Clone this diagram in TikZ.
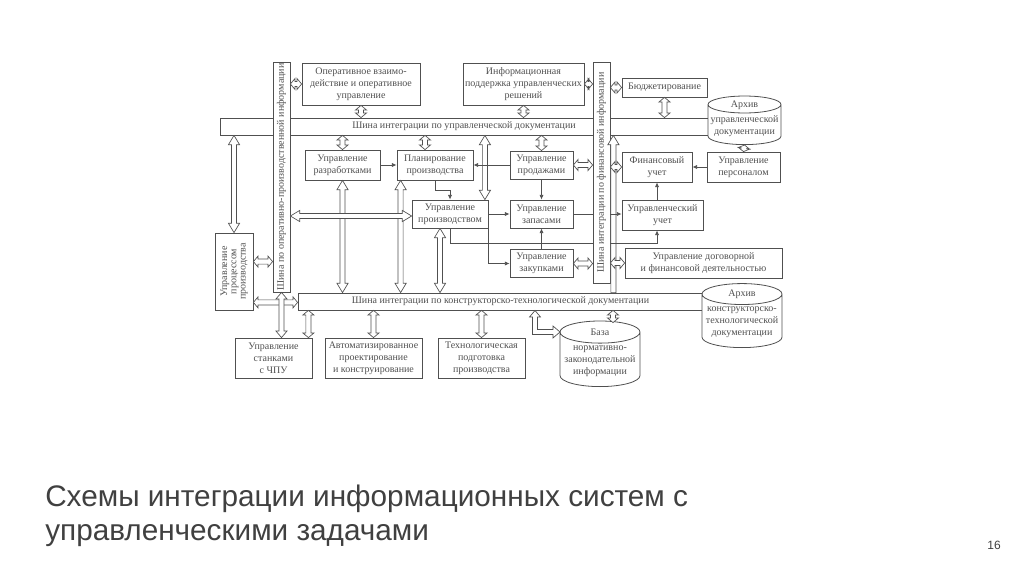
\documentclass[tikz,border=0pt]{standalone}
\usepackage{fontspec}
\usepackage{graphicx}
\setmainfont{Liberation Serif}
\newfontfamily\slidefont{Liberation Sans}
\usetikzlibrary{arrows.meta,calc,shapes.geometric}
\definecolor{ink}{HTML}{505050}
\definecolor{slidetext}{HTML}{404040}

\begin{document}
\begin{tikzpicture}[x=0.75pt,y=-0.75pt,every node/.style={font=\fontsize{7.5}{9}\selectfont,text=ink},
 sz/.style 2 args={minimum width=#1*0.75pt,minimum height=#2*0.75pt},
 box/.style={draw=ink,fill=white,line width=.6pt,align=center,inner sep=1pt},
 bus/.style={draw=ink,fill=white,line width=.6pt,inner sep=0pt},
 db/.style={cylinder,shape border rotate=90,draw=ink,fill=white,line width=.6pt,align=center,inner xsep=1pt,inner ysep=1.5pt,anchor=south},
 cap/.style={label={[anchor=center,yshift=#1]north:Архив}},
 ln/.style={ink,line width=.5pt},arr/.style={ink,line width=.5pt,-{Latex[length=3.5pt,width=3pt]}},
 hl/.store in=\ahl,hl=3.5pt,
 dbl/.style={draw=ink,fill=white,line width=.5pt,to path={let \p1=(\tikztostart),\p2=(\tikztotarget),\n1={atan2(\y2-\y1,\x2-\x1)} in
  (\p1)--($(\p1)+(\n1:\ahl)+(\n1+90:4.2pt)$)--($(\p1)+(\n1:\ahl)+(\n1+90:1.9pt)$)--($(\p2)+(\n1+180:\ahl)+(\n1+90:1.9pt)$)--($(\p2)+(\n1+180:\ahl)+(\n1+90:4.2pt)$)--(\p2)
  --($(\p2)+(\n1+180:\ahl)+(\n1-90:4.2pt)$)--($(\p2)+(\n1+180:\ahl)+(\n1-90:1.9pt)$)--($(\p1)+(\n1:\ahl)+(\n1-90:1.9pt)$)--($(\p1)+(\n1:\ahl)+(\n1-90:4.2pt)$)--cycle}},
 one/.style={draw=ink,fill=white,line width=.5pt,to path={let \p1=(\tikztostart),\p2=(\tikztotarget),\n1={atan2(\y2-\y1,\x2-\x1)} in
  ($(\p1)+(\n1+90:1.9pt)$)--($(\p2)+(\n1+180:\ahl)+(\n1+90:1.9pt)$)--($(\p2)+(\n1+180:\ahl)+(\n1+90:4.2pt)$)--(\p2)
  --($(\p2)+(\n1+180:\ahl)+(\n1-90:4.2pt)$)--($(\p2)+(\n1+180:\ahl)+(\n1-90:1.9pt)$)--($(\p1)+(\n1-90:1.9pt)$)--cycle}}]
\useasboundingbox[fill=white] (0,0) rectangle (1024,574);
% buses
\node[bus,sz={488}{17}] (busU) at (464,126.5) {Шина интеграции по управленческой документации};
\node[bus,sz={405}{17}] (busD) at (500.5,301.5) {Шина интеграции по конструкторско-технологической документации};
\node[bus,sz={17}{230}] (busL) at (281.5,177) {\rotatebox{90}{Шина по оперативно-производственной информации}};
\node[bus,sz={17}{221}] (busR) at (601.5,172.5) {\rotatebox{90}{Шина интеграции по финансовой информации}};
% archives
\node[db,minimum width=73*0.75pt,aspect=.24,cap=-7pt] (archU) at (744.5,145) {управленческой\\документации};
\node[db,minimum width=80*0.75pt,aspect=.28,cap=-8.5pt] (archD) at (742,348) {конструкторско-\\технологической\\документации};
\node[db,minimum width=80*0.75pt,aspect=.3,label={[anchor=center,yshift=-8.7pt]north:База}] (baza) at (600,387) {нормативно-\\законодательной\\информации};
% top row
\node[box,sz={118}{42}] (opv) at (361,84) {Оперативное взаимо-\\действие и оперативное\\управление};
\node[box,sz={121}{42}] (info) at (523.5,84) {Информационная\\поддержка управленческих\\решений};
\node[box,sz={85}{19}] (budg) at (664.5,87.5) {Бюджетирование};
% middle
\node[box,sz={75}{30}] (razr) at (342.5,165) {Управление\\разработками};
\node[box,sz={76}{30}] (plan) at (435,165) {Планирование\\производства};
\node[box,sz={63}{28}] (prod) at (541.5,165) {Управление\\продажами};
\node[box,sz={70}{30}] (fin) at (657,167) {Финансовый\\учет};
\node[box,sz={73}{30}] (pers) at (743.5,167) {Управление\\персоналом};
\node[box,sz={76}{28}] (uprod) at (450,214) {Управление\\производством};
\node[box,sz={63}{28}] (zap) at (541.5,214) {Управление\\запасами};
\node[box,sz={81}{30}] (uuch) at (662.5,215) {Управленческий\\учет};
\node[box,sz={63}{28}] (zak) at (541.5,263.5) {Управление\\закупками};
\node[box,sz={157}{30}] (dog) at (703.5,263) {Управление договорной\\и финансовой деятельностью};
\node[box,sz={38}{77}] (proc) at (234,271.5) {\rotatebox{90}{\begin{tabular}{@{}c@{}}Управление\\[-2pt]процессом\\[-2pt]производства\end{tabular}}};
% bottom row
\node[box,sz={77}{40}] (stan) at (273.5,358) {Управление\\станками\\с ЧПУ};
\node[box,sz={97}{40}] (avt) at (373.5,358) {Автоматизированное\\проектирование\\и конструирование};
\node[box,sz={87}{40}] (tech) at (481.5,358) {Технологическая\\подготовка\\производства};
% hollow links
\coordinate (p1) at ($(plan.north)+(-10,0)$);\coordinate (p2) at ($(plan.south west)+(4,0)$);
\coordinate (u1) at ($(uprod.north east)+(-3.5,0)$);\coordinate (u2) at ($(uprod.south)+(-10,0)$);\coordinate (u3) at ($(uprod.west)+(0,2)$);
\coordinate (c1) at ($(proc.north east)+(0,29)$);\coordinate (c2) at ($(proc.south east)+(0,-8)$);
\coordinate (s1) at ($(stan.north east)+(-4,0)$);\coordinate (b1) at ($(baza.north)+(13,2)$);\coordinate (r1) at ($(busR.south east)+(3,0)$);
\draw[one,hl=7pt] (r1 |- busD.north) to (r1 |- busU.south);
\draw[dbl] (opv.west) to (opv.west -| busL.east);\draw[dbl] (opv.south) to (opv.south |- busU.north);
\draw[dbl] (info.south) to (info.south |- busU.north);\draw[dbl] (info.east) to (info.east -| busR.west);
\draw[dbl] (budg.west -| busR.east) to (budg.west);\draw[dbl] (budg.south) to (budg.south |- busU.north);
\draw[dbl,hl=2.5pt] (archU.south) to (pers.north);
\draw[dbl] (razr.north) to (razr.north |- busU.south);\draw[dbl] (p1) to (p1 |- busU.south);
\draw[dbl] (prod.north) to (prod.north |- busU.south);\draw[dbl,hl=7pt] (u1 |- busU.south) to (u1);
\draw[dbl,hl=7pt] (proc.north) to (proc.north |- busU.south);
\draw[dbl] (prod.east) to (prod.east -| busR.west);\draw[dbl] (fin.west -| busR.east) to (fin.west);
\draw[dbl] (zak.east) to (zak.east -| busR.west);\draw[dbl] (dog.west -| busR.east) to (dog.west);
\draw[dbl] (c1) to (c1 -| busL.west);\draw[dbl] (c2) to (c2 -| busD.west);
\draw[dbl,hl=5pt] (busL.south) to (busL.south |- stan.north);
\draw[dbl,hl=7pt] (razr.south) to (razr.south |- busD.north);\draw[dbl,hl=7pt] (p2) to (p2 |- busD.north);
\draw[dbl,hl=7pt] (u2) to (u2 |- busD.north);\draw[dbl,hl=7pt] (u3 -| busL.east) to (u3);
\draw[dbl] (s1 |- busD.south) to (s1);\draw[dbl] (avt.north |- busD.south) to (avt.north);
\draw[dbl] (tech.north |- busD.south) to (tech.north);\draw[dbl] (b1 |- busD.south) to (b1);
\draw[ink,fill=white,line width=.5pt] (535,310.5)--(529.5,317)--(532.5,317)--(532.5,334.5)--(553,334.5)--(553,338)--(560,332)--(553,326)--(553,329.5)--(537.5,329.5)--(537.5,317)--(540.5,317)--cycle;
% plain links
\draw[arr] (razr.east) -- (plan.west);\draw[arr] (prod.west) -- (plan.east);
\draw[arr] (plan.south) -- ++(0,10) -| (uprod.north);\draw[arr] (uprod.east) -- (zap.west);
\draw[arr] (uprod.south east) |- (zak.west);\draw[arr] (prod.south) -- (zap.north);\draw[arr] (zak.north) -- (zap.south);
\draw[ln] (zap.east) -- (zap.east -| busR.west);\draw[arr] (zap.east -| busR.east) -- (zap.east -| uuch.west);
\coordinate (k1) at ($(uprod.south)+(0,15)$);\draw[ln] (uprod.south) -- (k1) -- (k1 -| busR.west);\draw[arr] (k1 -| busR.east) -| (fin.south |- uuch.south);
\draw[arr] (fin.south |- uuch.north) -- (fin.south);\draw[arr] (pers.west) -- (fin.east);
% caption
\node[anchor=north west,align=left,inner sep=0pt,font=\slidefont\fontsize{22.3}{25}\selectfont,text=slidetext] (title) at (45,485) {Схемы интеграции информационных систем с\\управленческими задачами};
\node[anchor=east,inner sep=0pt,font=\slidefont\fontsize{9}{11}\selectfont,text=slidetext] (pnum) at (1001,545) {16};
\end{tikzpicture}
\end{document}
